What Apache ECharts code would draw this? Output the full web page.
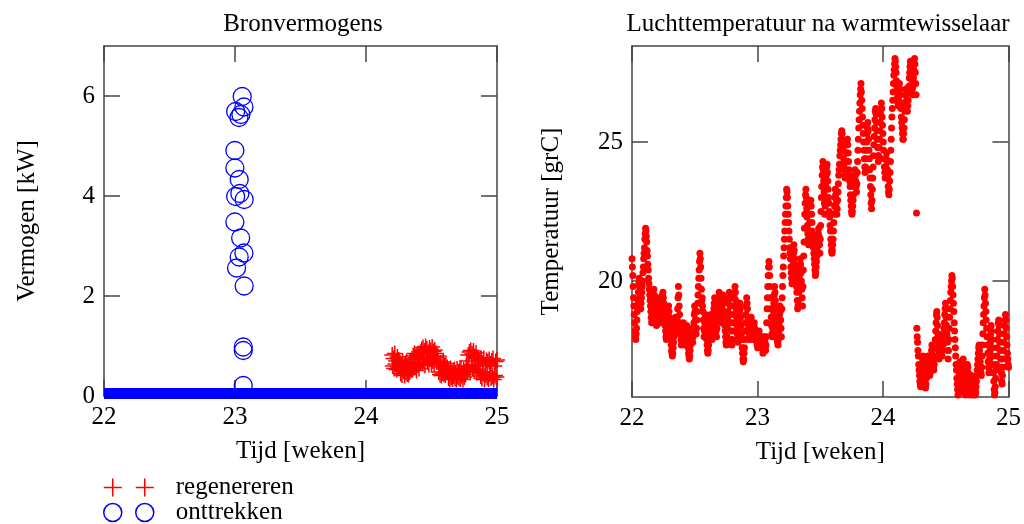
<!DOCTYPE html>
<html>
<head>
<meta charset="utf-8">
<script src="https://cdn.jsdelivr.net/npm/echarts@6/dist/echarts.min.js"></script>
<style>
html, body { margin: 0; padding: 0; background: #fff; }
#chart { width: 1024px; height: 524px; }
</style>
</head>
<body>
<div id="chart"></div>
<script>
// --- Bronvermogens ---
// onttrekken: losse punten rond week 23
var onttrekWeek = [23.055, 23.068, 23.005, 23.045, 23.030, 22.999, 22.999, 23.032, 23.005, 23.037,
                   23.070, 22.999, 23.043, 23.068, 23.032, 23.012, 23.070, 23.063, 23.063, 23.063];
var onttrekKW   = [5.99, 5.78, 5.69, 5.63, 5.57, 4.91, 4.56, 4.33, 3.99, 4.05,
                   3.93, 3.48, 3.16, 2.86, 2.78, 2.56, 2.20, 0.98, 0.91, 0.21];
// onttrekken rest van de tijd (nagenoeg nul)
var nulWeek = [22, 25];
var nulKW   = [0.05, 0.05];

// regenereren: elke 0.005 week vanaf week 24.2
var regenStart = 24.2;
var regenStep = 0.005;
var regenKW = [
  0.82, 0.60, 0.75, 0.55, 0.85, 0.64, 0.70, 0.53, 0.78, 0.58, 0.72, 0.62,
  0.66, 0.45, 0.60, 0.42, 0.69, 0.50, 0.56, 0.41, 0.64, 0.47, 0.68, 0.44, 0.58, 0.43, 0.62, 0.48, 0.67, 0.52,
  0.74, 0.53, 0.80, 0.57, 0.85, 0.60, 0.77, 0.51, 0.83, 0.62, 0.79, 0.55, 0.84, 0.66, 0.88,
  0.93, 0.66, 0.97, 0.72, 0.90, 0.61, 0.99, 0.76, 0.94, 0.68, 0.87, 0.63, 0.96, 0.74, 0.91, 0.65, 0.98, 0.70, 0.89, 0.64, 0.92, 0.77, 0.85, 0.68, 0.80,
  0.69, 0.48, 0.63, 0.43, 0.66, 0.41, 0.58, 0.46, 0.68, 0.44, 0.61, 0.42, 0.65, 0.50, 0.57,
  0.52, 0.36, 0.47, 0.33, 0.55, 0.38, 0.44, 0.34, 0.50, 0.40, 0.53, 0.35, 0.46, 0.33, 0.54, 0.39, 0.48, 0.36, 0.51, 0.34, 0.55, 0.41, 0.45, 0.33, 0.52, 0.38, 0.49, 0.43, 0.60,
  0.70, 0.52, 0.82, 0.57, 0.88, 0.48, 0.91, 0.62, 0.84, 0.55, 0.90, 0.50, 0.79, 0.59, 0.86, 0.47, 0.76, 0.53, 0.72, 0.49,
  0.70, 0.40, 0.74, 0.35, 0.66, 0.45, 0.75, 0.33, 0.62, 0.42, 0.71, 0.37, 0.68, 0.34, 0.73, 0.44, 0.64, 0.36, 0.70, 0.39, 0.75, 0.33, 0.60, 0.41, 0.69, 0.38, 0.72
];

// --- Luchttemperatuur na warmtewisselaar ---
// meetreeks, gelijk verdeeld tussen week 22 en 25
var tempStart = 22;
var tempEnd = 25;
var tempC = [
  20.8, 20.5, 20.2, 19.8, 19.4,
  19.1, 18.8, 18.5, 18.2, 18.0, 17.9, 18.1, 18.3, 18.6, 18.9, 19.1,
  19.3, 19.6, 19.9, 20.1, 19.8, 19.5, 19.2, 19.0, 19.2, 19.4, 19.6,
  19.8, 20.0, 20.3, 20.5, 20.8, 21.0, 21.2, 21.5, 21.7, 21.9, 21.8, 21.6, 21.4, 21.1, 20.9, 20.6, 20.4, 20.1, 19.9, 19.7, 19.5,
  19.3, 19.1, 18.9, 18.7, 18.5, 18.6, 18.8, 19.0, 19.3, 19.5, 19.7, 19.5, 19.3,
  19.1, 18.9, 18.7, 18.5, 18.4, 18.5, 18.7, 18.9, 19.1, 19.3, 19.4, 19.2, 19.0,
  18.8, 18.6, 18.5, 18.7, 18.9, 19.1, 19.3, 19.5, 19.6, 19.4, 19.2, 19.0, 18.8,
  18.6, 18.4, 18.2, 18.0, 17.9, 18.1, 18.3, 18.5, 18.7, 18.9, 19.1, 18.9, 18.7,
  18.5, 18.3, 18.1, 17.9, 17.7, 17.5, 17.4, 17.3, 17.4, 17.6, 17.8, 18.0, 18.2, 18.4, 18.6, 18.7, 18.5, 18.3, 18.1,
  18.4, 18.7, 19.0, 19.4, 19.8, 19.5, 19.1, 18.8,
  18.5, 18.3, 18.1, 17.9, 17.7, 17.8, 18.0, 18.2, 18.4, 18.5, 18.4, 18.2, 18.0, 17.8, 17.7, 17.9, 18.1, 18.3, 18.4,
  18.2, 18.0, 17.8, 17.6, 17.4, 17.3, 17.2, 17.3, 17.5, 17.7, 17.9, 18.1, 18.3, 18.2, 18.0, 17.8,
  18.0, 18.2, 18.5, 18.8, 19.1, 18.9, 18.6, 18.3, 18.1, 18.3, 18.6,
  18.9, 19.2, 19.5, 19.8, 20.1, 20.4, 20.7, 21.0, 20.8, 20.5, 20.1, 19.7, 19.3,
  19.4, 19.1, 18.9, 18.6, 18.3, 18.0, 18.2, 18.5,
  18.8, 18.6, 18.4, 18.1, 17.9, 17.7, 17.5, 17.4, 17.5, 17.7, 17.9, 18.1, 18.3, 18.5, 18.7, 18.8, 18.5, 18.2, 17.9,
  18.1, 18.3, 18.6, 18.8, 19.0, 19.2, 19.4, 19.1, 18.8, 18.5, 18.2, 18.0, 18.3,
  18.6, 18.8, 19.0, 19.2, 19.4, 19.6, 19.5, 19.3, 19.0, 18.8, 18.6, 18.5, 18.7, 19.0, 19.3, 19.5,
  19.4, 19.2, 18.9, 18.7, 18.4, 18.2, 18.0, 17.8, 17.7, 17.8, 18.0, 18.3, 18.6, 18.9, 19.2, 19.4, 19.6, 19.4, 19.1, 18.8, 18.5, 18.2, 17.9, 17.7,
  17.9, 18.2, 18.5, 18.8, 19.1, 19.4, 19.6, 19.8, 19.6, 19.3, 19.0, 18.7, 18.4, 18.1, 17.9, 17.8, 18.0, 18.3, 18.6, 18.9, 19.2,
  19.0, 18.7, 18.4, 18.1, 17.9, 17.6, 17.4, 17.2, 17.1, 17.2, 17.4, 17.6, 17.9, 18.2, 18.5, 18.8, 19.1, 19.4, 19.2, 19.0, 18.7, 18.5, 18.3, 18.1, 17.9, 18.0,
  18.2, 18.4, 18.6, 18.7, 18.5, 18.3, 18.1, 17.9, 18.0, 18.2, 18.4, 18.5, 18.3, 18.1, 17.9, 18.0, 18.1, 17.9, 17.8,
  17.7, 17.6, 17.7, 17.9, 18.1, 18.2, 18.0, 17.8, 17.7, 17.6, 17.7, 17.9, 18.0,
  17.8, 17.6, 17.4, 17.5, 17.7, 17.9, 18.0, 17.8, 17.6, 17.5, 17.7, 18.0, 18.5,
  19.0, 19.4, 19.8, 20.2, 20.5, 20.7, 20.5, 20.2, 19.8, 19.4, 19.0, 18.7, 18.4,
  18.1, 18.0, 18.3, 18.6, 18.9, 19.2, 19.5, 19.8, 19.6, 19.3, 19.0, 18.7, 18.4,
  18.1, 17.9, 17.8, 17.7, 17.9, 18.2, 18.5, 18.8, 19.1, 18.9, 18.6, 18.3, 18.0,
  19.0, 19.4, 19.8, 20.2, 20.5, 20.9, 21.2, 21.5,
  21.8, 22.1, 22.4, 22.7, 23.0, 23.3, 23.2, 23.0, 22.7, 22.4, 22.1, 21.8, 21.5,
  21.2, 21.0, 20.8, 20.5, 20.3, 20.1, 19.9, 20.1, 20.4, 20.7, 21.0, 21.3, 21.1, 20.8, 20.6, 20.4, 20.2, 20.0, 19.8,
  19.6, 19.3, 19.0, 19.1, 19.3, 19.6, 19.9, 20.2, 20.5, 20.8, 20.6, 20.3, 20.0, 19.7, 19.4, 19.1,
  19.8, 20.4, 20.9, 21.4, 21.9, 22.4, 22.8, 23.1, 23.3, 23.0, 22.6,
  22.3, 22.0, 21.7, 21.5, 21.3, 21.5, 21.8, 22.1, 22.4, 22.7, 22.9, 22.7, 22.4, 22.1, 21.8, 21.6,
  21.4, 21.2, 21.0, 20.8, 20.6, 20.4, 20.2, 20.3, 20.5, 20.7, 20.9, 21.1, 21.3, 21.5, 21.7, 21.9, 21.6, 21.3, 21.0,
  21.5, 22.0, 22.5, 23.0, 23.4, 23.8, 24.1, 24.3, 24.0, 23.6, 23.2, 22.8, 22.4,
  22.7, 23.0, 23.4, 23.8, 24.1, 24.2, 23.9, 23.6,
  23.3, 23.0, 22.8, 22.5, 22.3, 22.0, 21.8, 21.5, 21.3, 21.1, 21.0, 21.1, 21.3, 21.5, 21.8, 22.1, 22.4, 22.7, 23.0, 23.3, 23.1, 22.8, 22.6, 22.4,
  22.6, 22.9, 23.2, 23.5, 23.8, 24.0, 24.2, 24.5, 24.7, 24.9, 25.1, 25.3, 25.4,
  25.3, 25.1, 24.9, 24.7, 24.4, 24.2, 24.0, 23.8, 23.7, 23.8, 24.0, 24.3, 24.6, 24.9, 25.1, 24.9, 24.6, 24.3, 24.0, 23.8, 23.6,
  23.4, 23.1, 22.9, 22.7, 22.5, 22.4, 22.5, 22.7, 22.9, 23.1, 23.4, 23.6, 23.8, 24.0, 23.8, 23.6, 23.4, 23.2, 23.5,
  23.9, 24.3, 24.7, 25.1, 25.5, 25.8, 26.1, 26.4, 26.7, 26.9, 27.1, 26.8, 26.5, 26.2, 25.9, 25.6,
  25.3, 25.0, 24.7, 24.4, 24.1, 23.9, 24.1, 24.4, 24.7, 25.0, 25.3, 25.5, 25.7,
  25.4, 25.1, 24.7, 24.4, 24.0, 23.7, 23.4, 23.1, 22.8, 22.6, 22.9, 23.3, 23.7,
  24.1, 24.5, 24.9, 25.2, 25.5, 25.8, 26.1, 26.2, 26.0, 25.7, 25.4,
  25.1, 24.8, 24.5, 24.3, 24.5, 24.8, 25.1, 25.4, 25.7, 26.0, 26.2, 26.4, 26.2,
  25.9, 25.6, 25.3, 25.0, 24.7, 24.4, 24.1, 23.9, 23.7, 23.9, 24.1, 24.4, 24.6,
  24.3, 24.0, 23.7, 23.4, 23.2, 23.1, 23.3, 23.6, 23.9, 24.3, 24.7, 25.1, 25.5,
  25.9, 26.2, 26.5, 26.8, 27.1, 27.4, 27.6, 27.8, 28.0, 27.9, 27.7, 27.5, 27.2, 27.0, 26.8, 26.6, 26.4, 26.3, 26.5, 26.8, 27.1,
  26.9, 26.7, 26.4, 26.2, 25.9, 25.7, 25.5, 25.3, 25.1, 25.1, 25.3, 25.5, 25.8, 26.1, 26.4, 26.7, 26.9, 26.7, 26.5, 26.3, 26.1,
  26.3, 26.5, 26.8, 27.0, 27.3, 27.5, 27.7, 27.9, 27.8, 27.6, 27.3, 27.1, 26.9,
  26.7, 27.0, 27.3, 27.6, 27.8, 28.0, 27.8, 27.5, 27.1, 26.7, 22.45,
  18.3, 18.0, 17.8, 17.5, 17.3, 17.0, 16.8, 16.6, 16.4, 16.3, 16.2, 16.4, 16.6,
  16.8, 17.0, 17.2, 17.3, 17.1, 16.9, 16.7, 16.5, 16.3, 16.2, 16.15, 16.3, 16.5, 16.7, 16.9, 17.1, 17.3, 17.2, 17.0, 16.8, 16.7,
  16.6, 16.7, 16.9, 17.1, 17.3, 17.5, 17.7, 17.5, 17.3, 17.1, 16.9, 16.8, 17.0,
  17.3, 17.6, 17.9, 18.2, 18.5, 18.8, 18.9, 18.7, 18.4, 18.1, 17.8, 17.5, 17.2,
  17.4, 17.6, 17.8, 18.0, 17.9, 17.7, 17.5, 17.3, 17.5, 17.7, 17.9, 18.1, 18.3,
  18.5, 18.8, 19.0, 19.2, 19.0, 18.7, 18.4, 18.1,
  17.8, 17.5, 17.2, 17.5, 17.9, 18.3, 18.7, 19.0, 19.3, 19.6, 19.8, 20.0, 20.2,
  20.1, 19.8, 19.5, 19.2, 18.9, 18.5, 18.2, 17.9, 17.6, 17.3, 17.0,
  16.8, 16.5, 16.3, 16.1, 15.9, 16.1, 16.4, 16.7, 17.0, 17.1, 16.9, 16.6, 16.3, 16.0, 16.1, 16.4,
  16.7, 17.0, 17.2, 17.0, 16.8, 16.5, 16.3, 16.1, 15.9, 16.0, 16.2, 16.5, 16.7, 17.0, 16.9, 16.7, 16.5, 16.3, 16.1,
  16.0, 15.9, 16.0, 16.2, 16.4, 16.6, 16.4, 16.2, 16.0, 15.9, 16.0, 16.2, 16.4, 16.3, 16.1, 15.9, 16.0, 16.2, 16.4, 16.6, 16.8,
  17.0, 17.2, 17.4, 17.6, 17.7, 17.5, 17.3, 17.1, 16.9, 16.7, 16.6,
  16.9, 17.3, 17.7, 18.1, 18.5, 18.8, 19.1, 19.4, 19.7, 19.5, 19.2, 18.9, 18.6,
  18.3, 18.0, 17.7, 17.4, 17.1, 16.9, 16.7, 16.9, 17.2, 17.5, 17.8, 18.1, 18.4, 18.2, 17.9, 17.6,
  17.3, 17.0, 16.7, 16.4, 16.1, 15.9, 16.0, 16.2, 16.5, 16.8, 17.0,
  17.3, 17.6, 17.9, 18.2, 18.5, 18.6, 18.4, 18.1, 17.8, 17.5, 17.2, 16.9, 16.7,
  16.4, 16.3, 16.6, 16.9, 17.2, 17.5, 17.8, 18.1, 18.4, 18.6, 18.8, 18.6, 18.3, 18.0, 17.7, 17.4, 17.2, 17.0, 16.9
];

var weekTicks = [22, 23, 24, 25];
var kwTicks = [0, 2, 4, 6];
var tempTicks = [20, 25];

var chart = echarts.init(document.getElementById('chart'));

var serif = "'Liberation Serif', 'DejaVu Serif', serif";
var fs = 25;
var axisColor = '#444';
var crossPath = 'path://M0,8L16,8M8,0L8,16';
var crossPairIcon = 'path://M0,9L18,9M9,0L9,18M32,9L50,9M41,0L41,18';
var circlePairIcon = 'path://M0,9A9,9,0,1,1,18,9A9,9,0,1,1,0,9ZM32,9A9,9,0,1,1,50,9A9,9,0,1,1,32,9Z';

var regenData = regenKW.map(function (v, i) { return [regenStart + i * regenStep, v]; });
var onttrekData = onttrekKW.map(function (v, i) { return [onttrekWeek[i], v]; });
var nulData = nulKW.map(function (v, i) { return [nulWeek[i], v]; });
var tempStep = (tempEnd - tempStart) / (tempC.length - 1);
var tempData = tempC.map(function (v, i) { return [tempStart + i * tempStep, v]; });

function xAx(grid, pos, withLabels) {
    return {
        gridIndex: grid, type: 'value', position: pos,
        min: 22, max: 25, interval: 1,
        axisLine: { show: true, onZero: false, lineStyle: { color: axisColor, width: 1.5 } },
        axisTick: { show: true, inside: true, length: 16, customValues: weekTicks, lineStyle: { color: axisColor, width: 1.5 } },
        axisLabel: { show: withLabels, customValues: weekTicks, margin: 9, fontSize: fs, color: '#000', fontFamily: serif },
        splitLine: { show: false },
        name: withLabels ? 'Tijd [weken]' : '',
        nameLocation: 'middle', nameGap: 43,
        nameTextStyle: { fontSize: fs, color: '#000', fontFamily: serif }
    };
}

function yAx(grid, pos, min, max, ticks, name, gap) {
    var withLabels = pos === 'left';
    return {
        gridIndex: grid, type: 'value', position: pos,
        min: min, max: max,
        axisLine: { show: true, onZero: false, lineStyle: { color: axisColor, width: 1.5 } },
        axisTick: { show: true, inside: true, length: 16, customValues: ticks, lineStyle: { color: axisColor, width: 1.5 } },
        axisLabel: { show: withLabels, customValues: ticks, margin: 9, fontSize: fs, color: '#000', fontFamily: serif },
        splitLine: { show: false },
        name: withLabels ? name : '',
        nameLocation: 'middle', nameGap: gap, nameRotate: 90,
        nameTextStyle: { fontSize: fs, color: '#000', fontFamily: serif }
    };
}

var option = {
    animation: false,
    backgroundColor: '#fff',
    title: [
        { text: 'Bronvermogens', left: 298, top: 7, textAlign: 'center',
          textStyle: { fontSize: fs, fontWeight: 'normal', color: '#000', fontFamily: serif } },
        { text: 'Luchttemperatuur na warmtewisselaar', left: 813, top: 7, textAlign: 'center',
          textStyle: { fontSize: fs, fontWeight: 'normal', color: '#000', fontFamily: serif } }
    ],
    legend: {
        orient: 'vertical', left: 103, top: 475, height: 60, padding: 0,
        itemWidth: 50, itemHeight: 18, itemGap: 0,
        data: [
            { name: 'regenereren', icon: crossPairIcon },
            { name: 'onttrekken', icon: circlePairIcon }
        ],
        itemStyle: { borderWidth: 1.5 },
        textStyle: { fontSize: fs, lineHeight: 25, color: '#000', fontFamily: serif, padding: [0, 0, 0, 17] }
    },
    grid: [
        { left: 104, right: 527, top: 46, bottom: 128 },
        { left: 632, right: 15, top: 46, bottom: 127 }
    ],
    xAxis: [
        xAx(0, 'bottom', true), xAx(0, 'top', false),
        xAx(1, 'bottom', true), xAx(1, 'top', false)
    ],
    yAxis: [
        yAx(0, 'left', 0, 7, kwTicks, 'Vermogen [kW]', 64),
        yAx(0, 'right', 0, 7, kwTicks, '', 0),
        yAx(1, 'left', 15.83, 28.45, tempTicks, 'Temperatuur [grC]', 68),
        yAx(1, 'right', 15.83, 28.45, tempTicks, '', 0)
    ],
    series: [
        {
            name: 'regenereren', type: 'scatter', xAxisIndex: 0, yAxisIndex: 0,
            symbol: crossPath, symbolSize: 16,
            itemStyle: { color: 'transparent', borderColor: '#ff0000', borderWidth: 1.5, opacity: 1 },
            data: regenData
        },
        {
            name: 'onttrekken', type: 'scatter', xAxisIndex: 0, yAxisIndex: 0,
            symbol: 'circle', symbolSize: 18,
            itemStyle: { color: 'transparent', borderColor: '#0000ff', borderWidth: 1.3, opacity: 1 },
            data: onttrekData
        },
        {
            name: 'onttrekken nul', type: 'line', xAxisIndex: 0, yAxisIndex: 0,
            symbol: 'none', silent: true,
            lineStyle: { color: '#0000ff', width: 11 },
            data: nulData
        },
        {
            name: 'temperatuur', type: 'scatter', xAxisIndex: 2, yAxisIndex: 2,
            symbol: 'circle', symbolSize: 7,
            itemStyle: { color: '#ff0000', opacity: 1 },
            data: tempData
        }
    ]
};

chart.setOption(option);
</script>
</body>
</html>
